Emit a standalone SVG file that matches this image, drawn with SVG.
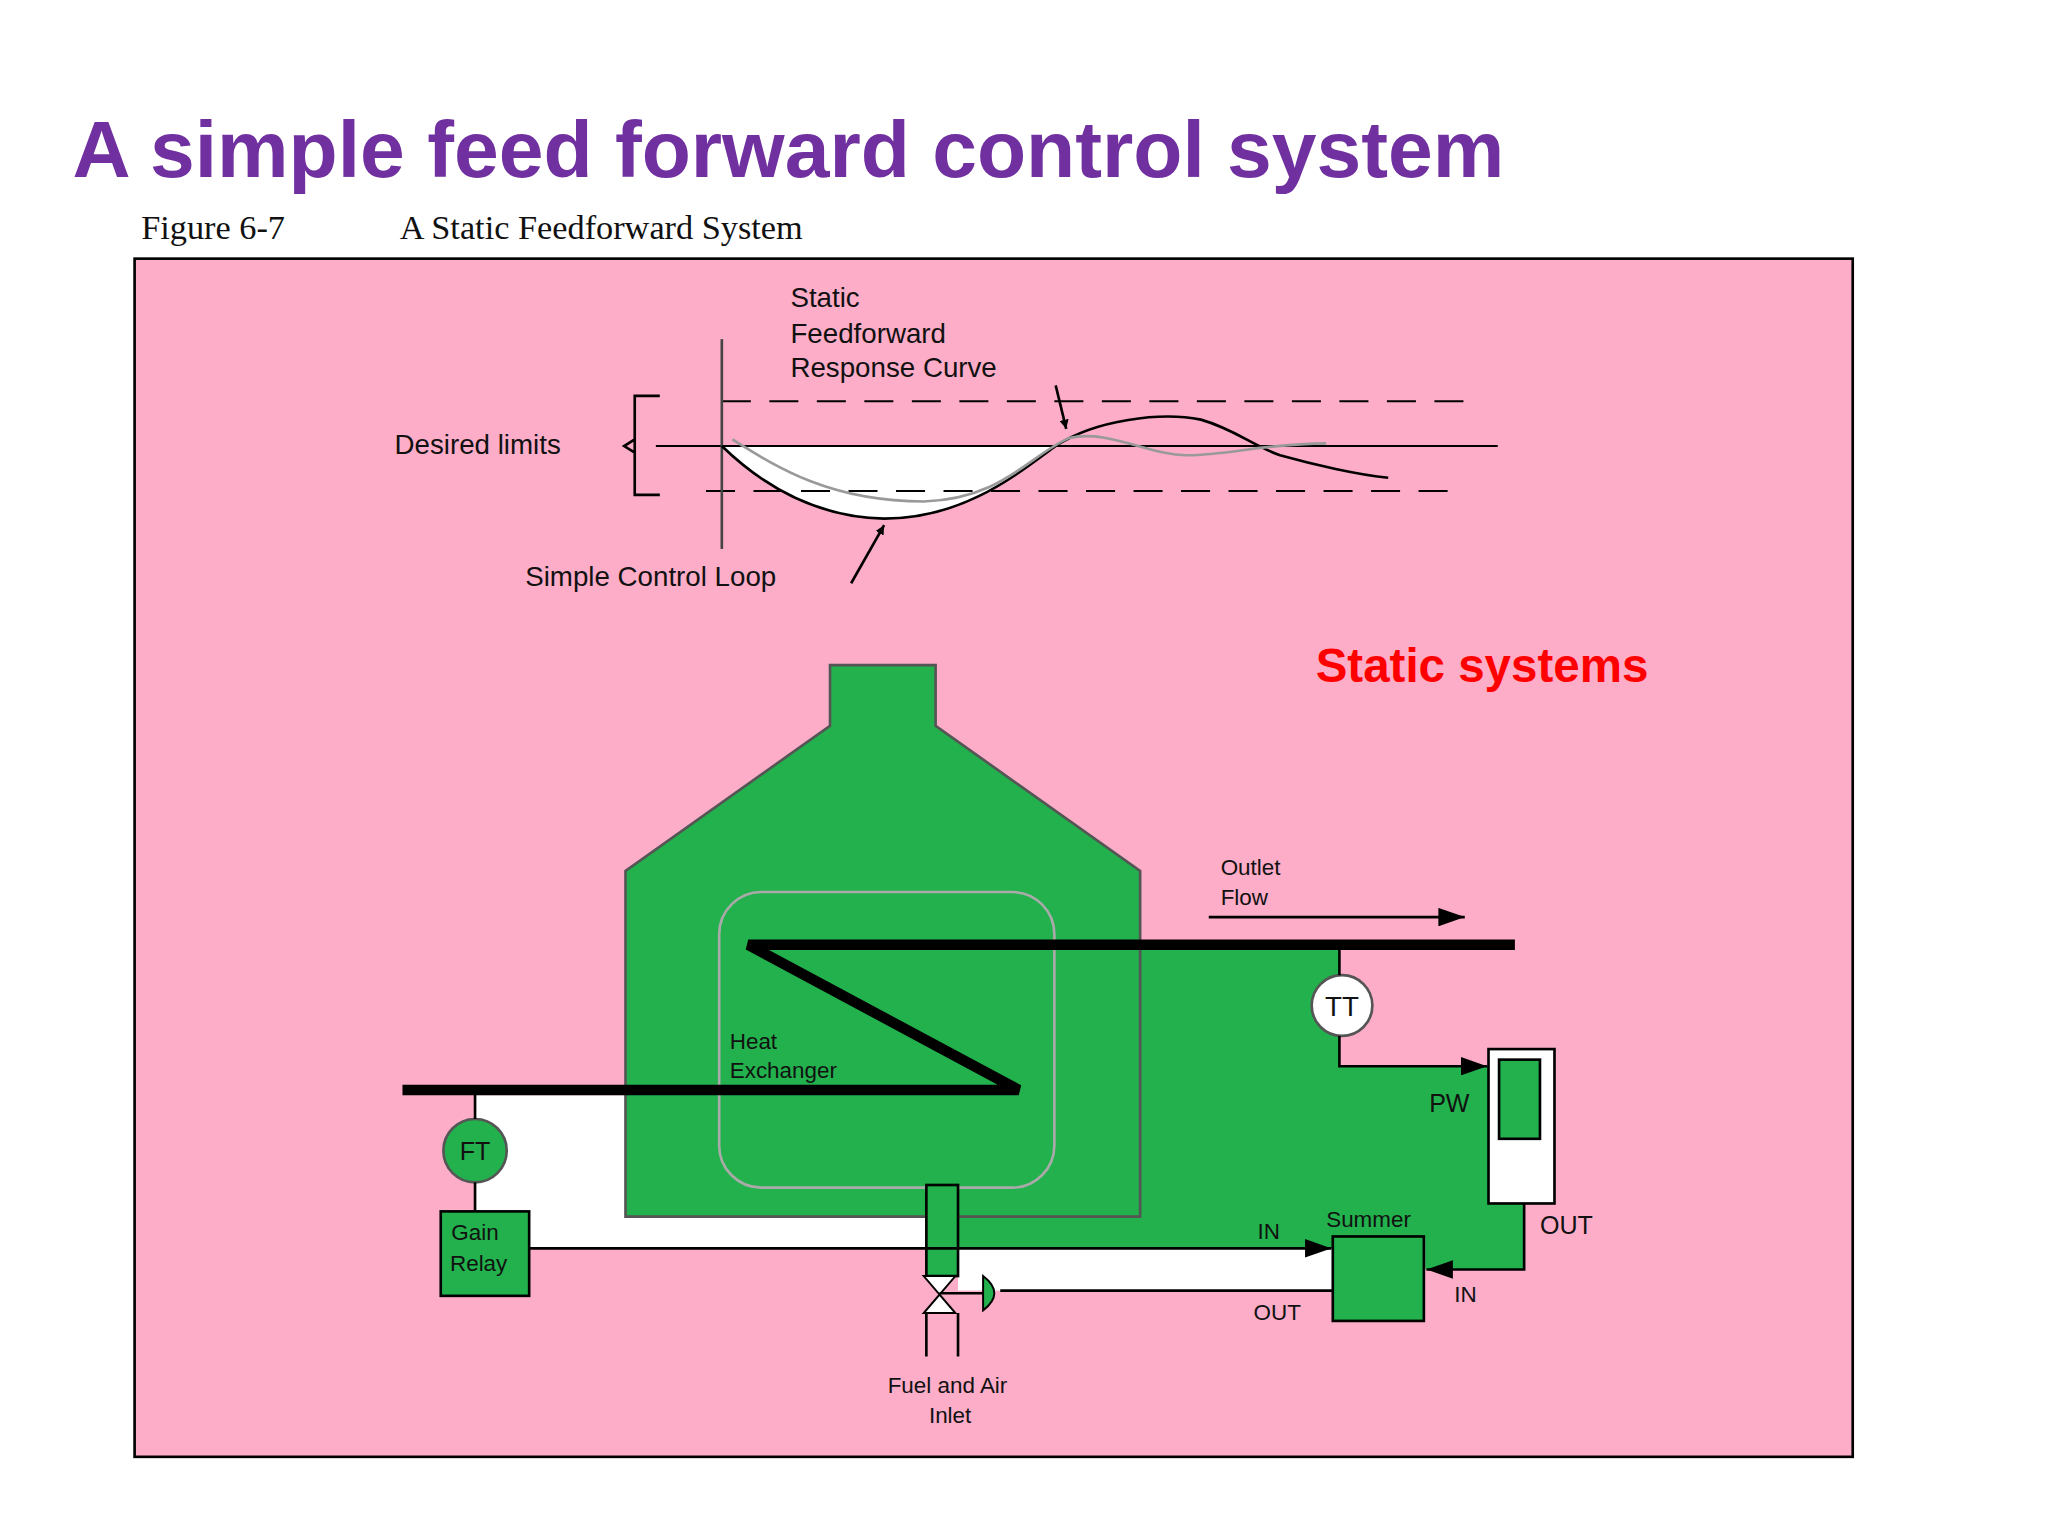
<svg xmlns="http://www.w3.org/2000/svg" width="2048" height="1536" viewBox="0 0 2048 1536">
<style>
.s{font-family:"Liberation Sans",Arial,sans-serif;fill:#111}
.l{stroke:#000;stroke-width:2;fill:none}
.g{fill:#22b14c}
</style>
<defs>
<marker id="ar" viewBox="0 0 10 10" refX="10" refY="5" markerWidth="7" markerHeight="7" orient="auto" markerUnits="userSpaceOnUse"><path d="M0,0L10,5L0,10z" fill="#000"/></marker>
<marker id="ab" viewBox="0 0 10 10" refX="10" refY="5" markerWidth="20" markerHeight="14" orient="auto" markerUnits="userSpaceOnUse" preserveAspectRatio="none"><path d="M0,0L10,5L0,10z" fill="#000"/></marker>
</defs>
<rect width="2048" height="1536" fill="#fff"/>
<g transform="scale(1.3196)">
<text x="55" y="134" font-family="Liberation Sans,Arial,sans-serif" font-weight="bold" font-size="60" fill="#7030a0" textLength="1085" lengthAdjust="spacingAndGlyphs">A simple feed forward control system</text>
<text x="107" y="181" font-family="Liberation Serif,serif" font-size="26" fill="#111">Figure 6-7</text>
<text x="303" y="181" font-family="Liberation Serif,serif" font-size="26" fill="#111">A Static Feedforward System</text>
<rect x="102" y="196" width="1302" height="908" fill="#fdadc8" stroke="#000" stroke-width="2"/>

<g id="chart">
<path d="M547,338 C580,370 620,392 670,393 C730,393 770,360 800,338 Z" fill="#fff"/>
<line x1="497" y1="338" x2="1135" y2="338" stroke="#000" stroke-width="1.5"/>
<line x1="547" y1="304" x2="1112" y2="304" stroke="#000" stroke-width="1.5" stroke-dasharray="22,14"/>
<line x1="535" y1="372" x2="1100" y2="372" stroke="#000" stroke-width="1.5" stroke-dasharray="22,14"/>
<line x1="547" y1="257" x2="547" y2="416" stroke="#444" stroke-width="2"/>
<path d="M500,300 H481 V375 H500 M481,333 L473,338 L481,343" class="l" stroke-width="1.5"/>
<path d="M547,338 C580,370 620,392 670,393 C730,393 770,360 800,338 C830,318 880,312 910,318 C935,325 950,338 970,345 C995,352 1030,360 1052,362" class="l" stroke-width="1.5"/>
<path d="M555,333 C590,355 630,380 700,380 C760,378 780,345 810,332 C840,325 870,345 900,345 C930,345 960,336 1005,336" fill="none" stroke="#999" stroke-width="2"/>
<text class="s" x="299" y="344" font-size="21">Desired limits</text>
<text class="s" x="599" y="233" font-size="21">Static</text>
<text class="s" x="599" y="260" font-size="21">Feedforward</text>
<text class="s" x="599" y="286" font-size="21">Response Curve</text>
<line x1="800" y1="292" x2="808" y2="325" class="l" stroke-width="1.5" marker-end="url(#ar)"/>
<text class="s" x="398" y="444" font-size="21">Simple Control Loop</text>
<line x1="645" y1="442" x2="670" y2="398" class="l" stroke-width="1.5" marker-end="url(#ar)"/>
</g>

<text x="997" y="517" font-family="Liberation Sans,Arial,sans-serif" font-weight="bold" font-size="36" fill="#ff0000">Static systems</text>

<g id="regions">
<polygon points="360,830 474,830 474,922 705,922 705,946 400,946 400,918 360,918" fill="#fff"/>
<polygon points="726,946 1010,946 1010,978 726,978" fill="#fff"/>
<polygon class="g" points="864,720 1015,720 1015,808 1128,808 1128,912 1155,912 1155,962 1080,962 1080,937 1010,937 1010,946 726,946 726,922 864,922"/>
</g>

<g id="furnace">
<polygon class="g" points="629,504 709,504 709,550 864,660 864,922 474,922 474,660 629,550" stroke="#555" stroke-width="2"/>
<rect x="545" y="676" width="254" height="224" rx="32" fill="none" stroke="#aaa" stroke-width="2"/>
<text class="s" x="553" y="795" font-size="17">Heat</text>
<text class="s" x="553" y="817" font-size="17">Exchanger</text>
</g>

<g id="pipe">
<polyline points="305,826 772,826 567,716 1148,716" fill="none" stroke="#000" stroke-width="8"/>
<text class="s" x="925" y="663" font-size="17">Outlet</text>
<text class="s" x="925" y="686" font-size="17">Flow</text>
</g>

<g id="inlet">
<rect x="702" y="898" width="24" height="69" class="g" stroke="#000" stroke-width="2"/>
<path d="M700,967 L724,967 L712,981 Z M700,995 L724,995 L712,981 Z" fill="#fff" stroke="#000" stroke-width="1.5"/>
<path d="M702,995 V1028 M726,995 V1028" class="l"/>
<path d="M745,967 Q762,980 745,993 Z" class="g" stroke="#000" stroke-width="1.5"/>
<line x1="712" y1="980" x2="745" y2="980" class="l" stroke-width="1.5"/>
<text class="s" x="718" y="1056" font-size="17" text-anchor="middle">Fuel and Air</text>
<text class="s" x="720" y="1078" font-size="17" text-anchor="middle">Inlet</text>
</g>

<g id="FT">
<circle cx="360" cy="872" r="24" class="g" stroke="#555" stroke-width="2"/>
<text class="s" x="360" y="879" font-size="19" text-anchor="middle">FT</text>
</g>
<g id="gain">
<rect x="334" y="918" width="67" height="64" class="g" stroke="#000" stroke-width="2"/>
<text class="s" x="342" y="940" font-size="17">Gain</text>
<text class="s" x="341" y="963" font-size="17">Relay</text>
</g>
<g id="TT">
<circle cx="1017" cy="762" r="23" fill="#fff" stroke="#555" stroke-width="2"/>
<text class="s" x="1017" y="770" font-size="21" text-anchor="middle">TT</text>
</g>
<g id="PW">
<rect x="1128" y="795" width="50" height="117" fill="#fff" stroke="#000" stroke-width="2"/>
<rect x="1136" y="803" width="31" height="60" class="g" stroke="#000" stroke-width="2"/>
<text class="s" x="1083" y="843" font-size="19">PW</text>
<text class="s" x="1167" y="935" font-size="19">OUT</text>
</g>
<g id="summer">
<rect x="1010" y="937" width="69" height="64" class="g" stroke="#000" stroke-width="2"/>
<text class="s" x="1005" y="930" font-size="17">Summer</text>
<text class="s" x="953" y="939" font-size="17">IN</text>
<text class="s" x="1102" y="987" font-size="17">IN</text>
<text class="s" x="950" y="1000" font-size="17">OUT</text>
</g>

<g id="connectors">
<line x1="916" y1="695" x2="1110" y2="695" class="l" marker-end="url(#ab)"/>
<polyline points="1015,716 1015,739" class="l"/>
<polyline points="1015,785 1015,808 1127,808" class="l" marker-end="url(#ab)"/>
<polyline points="1155,912 1155,962 1081,962" class="l" marker-end="url(#ab)"/>
<polyline points="360,826 360,848" class="l" stroke="#777"/>
<polyline points="360,896 360,918" class="l" stroke="#777"/>
<polyline points="401,946 1009,946" class="l" marker-end="url(#ab)"/>
<polyline points="758,978 1010,978" class="l"/>
</g>
</g>
</svg>
